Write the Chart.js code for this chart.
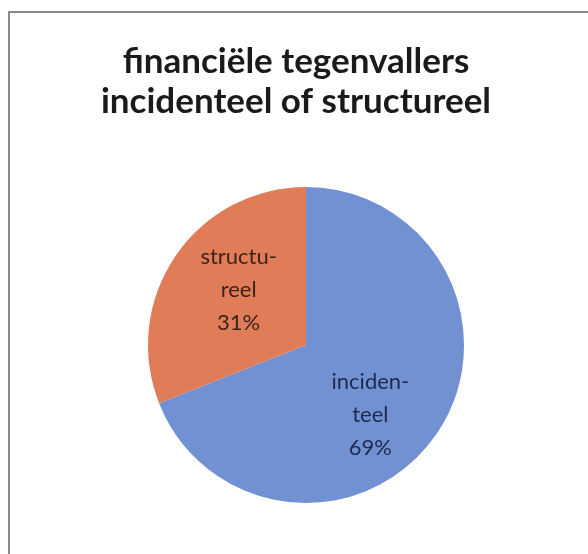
<!DOCTYPE html>
<html>
<head>
<meta charset="utf-8">
<script src="https://cdn.jsdelivr.net/npm/chart.js@4"></script>
<style>
  html, body { margin: 0; padding: 0; background: #fff; }
  #wrap { position: relative; width: 588px; height: 554px; overflow: hidden; }
  #frame { position: absolute; left: 8px; top: 11px; width: 700px; height: 700px;
           border-top: 2px solid #8a8a8a; border-left: 2px solid #8a8a8a; }
  canvas { position: absolute; left: 0; top: 0; }
</style>
</head>
<body>
<div id="wrap">
  <div id="frame"></div>
  <canvas id="chart" width="588" height="554"></canvas>
</div>
<script>
// chart data
const titleLines = ['financiële tegenvallers', 'incidenteel of structureel'];
const categories = ['incidenteel', 'structureel'];
const labelLines = [['inciden-', 'teel'], ['structu-', 'reel']];
const values = [69, 31];
const colors = ['#7191d3', '#e17c59'];
const labelColors = ['#1d2b4f', '#3b2418'];

// draws the two title lines
const titlePlugin = {
  id: 'titleLines',
  afterDraw(chart, args, opts) {
    const ctx = chart.ctx;
    ctx.save();
    ctx.font = opts.font;
    ctx.fillStyle = opts.color;
    ctx.textAlign = 'center';
    ctx.textBaseline = 'middle';
    opts.lines.forEach((line, i) => {
      ctx.fillText(line, opts.x, opts.y + i * opts.lineHeight);
    });
    ctx.restore();
  },
};

// labels inside the slices, placed near each arc's middle angle
const sliceLabels = {
  id: 'sliceLabels',
  afterDatasetsDraw(chart, args, opts) {
    const ctx = chart.ctx;
    const meta = chart.getDatasetMeta(0);
    const data = chart.data.datasets[0].data;
    const total = data.reduce((a, b) => a + b, 0);
    ctx.save();
    ctx.font = opts.font;
    ctx.textAlign = 'center';
    ctx.textBaseline = 'middle';
    meta.data.forEach((arc, i) => {
      const p = arc.getProps(['x', 'y', 'startAngle', 'endAngle', 'outerRadius'], true);
      const mid = (p.startAngle + p.endAngle) / 2 + opts.shift[i] * Math.PI / 180;
      const r = p.outerRadius * opts.radius[i];
      const cx = p.x + Math.cos(mid) * r;
      const cy = p.y + Math.sin(mid) * r;
      const lines = labelLines[i].concat([Math.round(data[i] / total * 100) + '%']);
      const top = cy - (lines.length - 1) * opts.lineHeight / 2;
      ctx.fillStyle = labelColors[i];
      lines.forEach((line, j) => ctx.fillText(line, cx, top + j * opts.lineHeight));
    });
    ctx.restore();
  },
};

new Chart(document.getElementById('chart'), {
  type: 'pie',
  data: {
    labels: categories,
    datasets: [{
      data: values,
      backgroundColor: colors,
      borderWidth: 0,
    }],
  },
  options: {
    responsive: false,
    animation: false,
    layout: {
      padding: { left: 148, right: 124, top: 187, bottom: 51 },
    },
    plugins: {
      legend: { display: false },
      tooltip: { enabled: false },
      title: { display: false },
      titleLines: {
        lines: titleLines,
        x: 296,
        y: 62,
        lineHeight: 40,
        font: 'bold 35px Lato',
        color: '#1a1a1a',
      },
      sliceLabels: {
        font: '22px Lato',
        lineHeight: 33,
        radius: [0.60, 0.55],
        shift: [13, 5],
      },
    },
  },
  plugins: [titlePlugin, sliceLabels],
});
</script>
</body>
</html>
